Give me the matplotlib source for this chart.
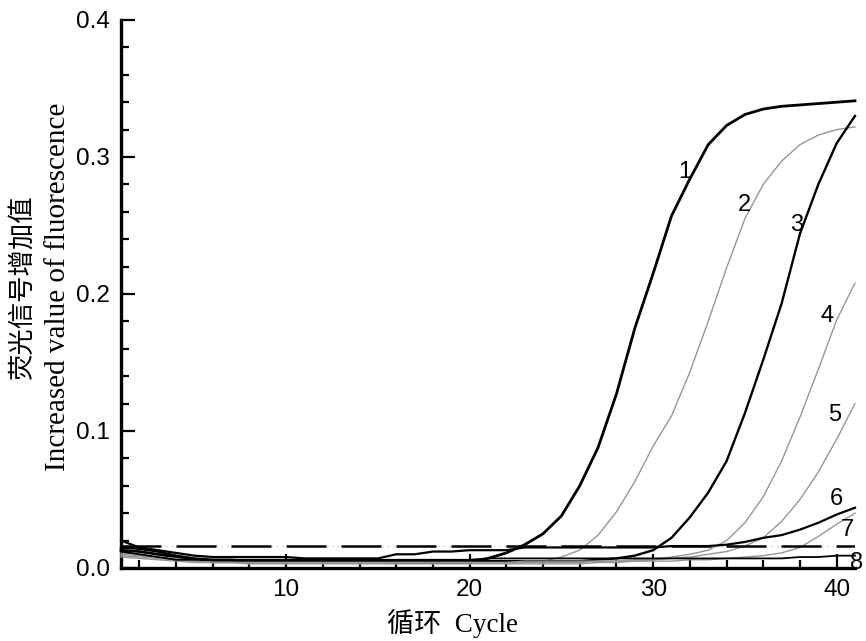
import numpy as np
import matplotlib.pyplot as plt
from matplotlib.ticker import MultipleLocator

# cycle numbers
cycles = np.arange(1, 42)

# fluorescence increase, one value per cycle (1..41)
curve1 = [0.013, 0.012, 0.010, 0.008, 0.006, 0.005, 0.005, 0.005, 0.005, 0.005,
          0.005, 0.005, 0.005, 0.005, 0.005, 0.004, 0.004, 0.004, 0.004, 0.004,
          0.007, 0.011, 0.017, 0.025, 0.038, 0.060, 0.088, 0.127, 0.175, 0.215,
          0.257, 0.284, 0.309, 0.323, 0.331, 0.335, 0.337, 0.338, 0.339, 0.340, 0.341]
curve2 = [0.010, 0.009, 0.008, 0.006, 0.005, 0.004, 0.004, 0.004, 0.004, 0.004,
          0.004, 0.004, 0.004, 0.004, 0.004, 0.004, 0.004, 0.004, 0.004, 0.004,
          0.004, 0.004, 0.004, 0.005, 0.008, 0.013, 0.024, 0.041, 0.063, 0.089,
          0.111, 0.143, 0.180, 0.219, 0.255, 0.280, 0.297, 0.309, 0.316, 0.320, 0.322]
curve3 = [0.015, 0.014, 0.012, 0.009, 0.007, 0.006, 0.006, 0.005, 0.005, 0.005,
          0.005, 0.005, 0.005, 0.005, 0.005, 0.005, 0.005, 0.005, 0.005, 0.005,
          0.005, 0.005, 0.005, 0.005, 0.005, 0.005, 0.006, 0.007, 0.009, 0.013,
          0.022, 0.037, 0.055, 0.078, 0.113, 0.152, 0.193, 0.244, 0.280, 0.310, 0.330]
curve4 = [0.011, 0.010, 0.008, 0.007, 0.005, 0.004, 0.004, 0.003, 0.003, 0.003,
          0.003, 0.003, 0.003, 0.003, 0.003, 0.003, 0.003, 0.003, 0.003, 0.003,
          0.003, 0.003, 0.003, 0.003, 0.003, 0.003, 0.004, 0.004, 0.005, 0.006,
          0.008, 0.010, 0.013, 0.020, 0.033, 0.052, 0.078, 0.110, 0.145, 0.181, 0.208]
curve5 = [0.009, 0.008, 0.007, 0.006, 0.005, 0.004, 0.004, 0.004, 0.004, 0.004,
          0.004, 0.004, 0.004, 0.004, 0.004, 0.004, 0.004, 0.004, 0.004, 0.004,
          0.004, 0.004, 0.004, 0.004, 0.004, 0.004, 0.005, 0.005, 0.006, 0.006,
          0.007, 0.008, 0.010, 0.012, 0.016, 0.022, 0.034, 0.050, 0.070, 0.094, 0.120]
curve6 = [0.020, 0.015, 0.013, 0.011, 0.009, 0.008, 0.008, 0.008, 0.008, 0.008,
          0.007, 0.007, 0.007, 0.007, 0.007, 0.010, 0.010, 0.012, 0.012, 0.013,
          0.013, 0.013, 0.015, 0.015, 0.015, 0.015, 0.015, 0.015, 0.015, 0.015,
          0.016, 0.016, 0.016, 0.017, 0.019, 0.022, 0.024, 0.028, 0.033, 0.039, 0.044]
curve7 = [0.008, 0.007, 0.006, 0.005, 0.004, 0.004, 0.004, 0.004, 0.004, 0.004,
          0.004, 0.004, 0.004, 0.004, 0.004, 0.004, 0.004, 0.004, 0.004, 0.004,
          0.004, 0.004, 0.005, 0.005, 0.005, 0.005, 0.005, 0.005, 0.005, 0.005,
          0.005, 0.006, 0.006, 0.007, 0.008, 0.009, 0.011, 0.015, 0.023, 0.032, 0.040]
curve8 = [0.012, 0.010, 0.008, 0.006, 0.006, 0.006, 0.006, 0.006, 0.006, 0.006,
          0.006, 0.006, 0.006, 0.006, 0.006, 0.006, 0.006, 0.006, 0.006, 0.006,
          0.007, 0.007, 0.007, 0.007, 0.007, 0.007, 0.007, 0.007, 0.007, 0.007,
          0.007, 0.007, 0.007, 0.007, 0.007, 0.007, 0.007, 0.008, 0.008, 0.009, 0.009]

curves = [curve1, curve2, curve3, curve4, curve5, curve6, curve7, curve8]
names = ['1', '2', '3', '4', '5', '6', '7', '8']
# where each curve number sits (cycle, value)
label_x = [31.7, 35.0, 37.8, 39.5, 39.9, 40.0, 40.6, 41.1]
label_y = [0.289, 0.265, 0.250, 0.184, 0.112, 0.050, 0.028, 0.004]

threshold = 0.016
x_ticks = [10, 20, 30, 40]
y_ticks = [0.0, 0.1, 0.2, 0.3, 0.4]

# line looks
colors = ['black', '#969696', 'black', '#969696', '#969696', 'black', '#969696', 'black']
widths = [2.0, 1.0, 1.7, 1.0, 1.0, 1.6, 1.0, 1.3]

fig = plt.figure(figsize=(8.66, 6.41), dpi=100)
ax = fig.add_axes([0.1397, 0.1139, 0.8476, 0.8549])

for y, c, lw in zip(curves, colors, widths):
    ax.plot(cycles, y, color=c, lw=lw, clip_on=False, zorder=3)

# threshold line: long dashes with faint dots in the gaps
ax.axhline(threshold, color='#c8c8c8', lw=1.0, ls=(0, (1, 3)), zorder=2)
ax.axhline(threshold, color='black', lw=1.8, ls=(0, (16, 6)), zorder=4)

for n, lx, ly in zip(names, label_x, label_y):
    ax.text(lx, ly, n, fontsize=17, family='Liberation Sans', ha='center', va='center', zorder=5)

ax.set_xlim(1, 41)
ax.set_ylim(0, 0.4)
ax.set_xticks(x_ticks)
ax.set_yticks(y_ticks)
ax.set_yticklabels(['%.1f' % v for v in y_ticks])
ax.xaxis.set_minor_locator(MultipleLocator(2))
ax.yaxis.set_minor_locator(MultipleLocator(0.02))
ax.tick_params(which='both', direction='in', width=1.6, labelsize=17.5)
ax.tick_params(which='major', length=10, pad=8)
ax.tick_params(which='minor', length=6)
for lab in ax.get_xticklabels() + ax.get_yticklabels():
    lab.set_family('Liberation Sans')

ax.spines['top'].set_visible(False)
ax.spines['right'].set_visible(False)
ax.spines['left'].set_linewidth(2.4)
ax.spines['bottom'].set_linewidth(2.4)

# axis titles (Chinese + English)
fig.text(0.025, 0.552, '荧光信号增加值', rotation=90, ha='center', va='center',
         fontsize=19, family=['Noto Sans CJK SC', 'DejaVu Sans'])
fig.text(0.067, 0.552, 'Increased value of fluorescence', rotation=90, ha='center', va='center',
         fontsize=21, family='Liberation Serif')
fig.text(0.523, 0.004, '循环  Cycle', ha='center', va='bottom',
         fontsize=19.5, family=['Liberation Serif', 'Noto Sans CJK SC'])

fig.savefig('out.png', dpi=100)
